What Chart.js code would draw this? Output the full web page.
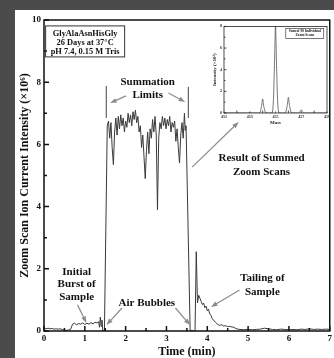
<!DOCTYPE html>
<html>
<head>
<meta charset="utf-8">
<script src="https://cdn.jsdelivr.net/npm/chart.js@4.4.1/dist/chart.umd.min.js"></script>
<style>
    html, body { margin: 0; padding: 0; background: #4b4b4b; }
    body { width: 334px; height: 358px; position: relative; overflow: hidden; }
    #panel { position: absolute; left: 15px; top: 10px; width: 319px; height: 348px; background: #fff; }
    #mainChart { position: absolute; left: 0; top: 0; }
    #insetChart { position: absolute; left: 200px; top: 22px; }
</style>
</head>
<body>
<div id="panel"></div>
<canvas id="mainChart" width="334" height="358"></canvas>
<canvas id="insetChart" width="132" height="108"></canvas>
<script>
// main trace: time (min) vs zoom scan ion current (x10^6)
const timeMin = [
    0.00, 0.05, 0.10, 0.15, 0.20, 0.25, 0.30, 0.35, 0.40, 0.45,
    0.50, 0.55, 0.60, 0.65, 0.70, 0.75, 0.80, 0.85, 0.90, 0.95,
    1.00, 1.05, 1.10, 1.15, 1.20, 1.25, 1.30, 1.34, 1.36, 1.38,
    1.40, 1.42, 1.44, 1.48, 1.55, 1.58, 1.61, 1.64, 1.67, 1.70,
    1.73, 1.76, 1.79, 1.82, 1.85, 1.88, 1.91, 1.94, 1.97, 2.00,
    2.03, 2.06, 2.09, 2.12, 2.15, 2.18, 2.21, 2.24, 2.27, 2.30,
    2.33, 2.36, 2.39, 2.42, 2.45, 2.48, 2.51, 2.54, 2.57, 2.60,
    2.63, 2.66, 2.69, 2.72, 2.75, 2.78, 2.81, 2.84, 2.87, 2.90,
    2.93, 2.96, 2.99, 3.02, 3.05, 3.08, 3.11, 3.14, 3.17, 3.20,
    3.23, 3.26, 3.29, 3.32, 3.35, 3.38, 3.41, 3.44, 3.46, 3.48,
    3.58, 3.62, 3.66, 3.70, 3.73, 3.76, 3.79, 3.82, 3.85, 3.88,
    3.91, 3.94, 3.97, 4.00, 4.03, 4.06, 4.09, 4.12, 4.15, 4.20,
    4.25, 4.30, 4.35, 4.40, 4.45, 4.50, 4.55, 4.60, 4.65, 4.70,
    4.75, 4.80, 4.90, 5.00, 5.10, 5.20, 5.30, 5.40, 5.50, 5.60,
    5.70, 5.80, 5.90, 6.00, 6.10, 6.20, 6.30, 6.40, 6.50, 6.60,
    6.70, 6.80, 6.90, 7.00
];
const intensity = [
    0.08, 0.07, 0.09, 0.07, 0.08, 0.06, 0.07, 0.06, 0.07, 0.05,
    0.03, 0.02, 0.03, 0.05, 0.22, 0.25, 0.20, 0.24, 0.22, 0.26,
    0.21, 0.25, 0.22, 0.27, 0.23, 0.28, 0.26, 0.30, 0.12, 0.45,
    0.15, 0.35, 0.02, 0.00, 6.60, 6.75, 6.20, 6.70, 5.90, 5.35,
    6.40, 6.85, 6.30, 6.90, 6.50, 6.95, 6.60, 6.85, 6.40, 6.75,
    6.55, 7.00, 6.70, 6.95, 6.60, 7.05, 6.80, 7.10, 6.70, 6.90,
    6.40, 6.60, 5.90, 6.30, 5.60, 4.90, 5.80, 6.40, 5.70, 6.50,
    6.20, 6.80, 6.40, 6.90, 6.30, 3.90, 6.20, 6.70, 6.50, 6.90,
    6.60, 6.85, 6.50, 6.80, 6.60, 6.90, 6.40, 6.70, 6.55, 6.75,
    6.10, 6.50, 5.90, 5.40, 6.30, 6.70, 6.20, 7.00, 6.45, 6.60,
    0.00, 0.02, 0.00, 0.00, 2.55, 0.90, 1.15, 1.05, 0.95, 0.85,
    0.90, 0.75, 0.80, 0.65, 0.70, 0.55, 0.50, 0.40, 0.35, 0.28,
    0.22, 0.18, 0.20, 0.16, 0.17, 0.14, 0.15, 0.13, 0.12, 0.08,
    0.06, 0.05, 0.04, 0.05, 0.04, 0.05, 0.06, 0.09, 0.07, 0.05,
    0.04, 0.06, 0.05, 0.04, 0.05, 0.04, 0.06, 0.05, 0.07, 0.05,
    0.06, 0.05, 0.06, 0.05
];
const timeTicks = [0, 1, 2, 3, 4, 5, 6, 7];
const intensityTicks = [0, 2, 4, 6, 8, 10];

// inset: summed zoom scan spectrum
const insetMass = [451, 453.75, 453.9, 454.0, 454.1, 454.25, 454.75, 454.9, 455.0, 455.1, 455.25,
    455.75, 455.9, 456.0, 456.1, 456.25, 456.8, 456.9, 457.0, 457.1, 457.2, 459];
const insetIntensity = [0, 0, 0.55, 1.3, 0.55, 0, 0, 3.6, 8.2, 3.6, 0,
    0, 0.6, 1.45, 0.6, 0, 0, 0.12, 0.3, 0.12, 0, 0];
const insetMassTicks = [451, 453, 455, 457, 459];
const insetIntensityTicks = [0, 2, 4, 6, 8];

const SERIF = '"Liberation Serif", "Times New Roman", serif';
const ARROW = '#8c8c8c';

// text labels placed in data units (t, v) of the main chart
const notes = [
    { lines: ['Summation', 'Limits'], t: 2.54, v: 8.0, size: 11, gap: 13 },
    { lines: ['Result of Summed', 'Zoom Scans'], t: 5.33, v: 5.56, size: 11, gap: 14 },
    { lines: ['Initial', 'Burst of', 'Sample'], t: 0.80, v: 1.90, size: 11, gap: 12.5 },
    { lines: ['Air Bubbles'], t: 2.52, v: 0.90, size: 11, gap: 0 },
    { lines: ['Tailing of', 'Sample'], t: 5.35, v: 1.70, size: 11, gap: 14 }
];
const arrows = [
    [2.01, 7.56, 1.62, 7.33],
    [3.05, 7.65, 3.46, 7.36],
    [3.63, 5.27, 4.77, 6.72],
    [0.82, 0.84, 1.04, 0.26],
    [1.91, 0.74, 1.53, 0.19],
    [3.22, 0.74, 3.58, 0.19],
    [4.79, 1.32, 4.09, 0.77]
];
const limitLines = [[1.525, 6.85, 7.88], [3.535, 6.85, 7.85]];

function drawArrow(ctx, x1, y1, x2, y2) {
    const a = Math.atan2(y2 - y1, x2 - x1);
    ctx.beginPath();
    ctx.moveTo(x1, y1);
    ctx.lineTo(x2 - 4 * Math.cos(a), y2 - 4 * Math.sin(a));
    ctx.stroke();
    ctx.beginPath();
    ctx.moveTo(x2, y2);
    ctx.lineTo(x2 - 7 * Math.cos(a - 0.35), y2 - 7 * Math.sin(a - 0.35));
    ctx.lineTo(x2 - 7 * Math.cos(a + 0.35), y2 - 7 * Math.sin(a + 0.35));
    ctx.closePath();
    ctx.fill();
}

function drawFrameTicks(ctx, chart, xMinor, yMinor, major, minor) {
    const { chartArea: a, scales: { x, y } } = chart;
    ctx.strokeRect(a.left, a.top, a.right - a.left, a.bottom - a.top);
    ctx.beginPath();
    for (let v = x.min; v <= x.max + 1e-9; v += xMinor) {
        const px = x.getPixelForValue(v);
        const len = Math.abs(v / (xMinor * 2) - Math.round(v / (xMinor * 2))) < 1e-6 ? major : minor;
        ctx.moveTo(px, a.bottom);
        ctx.lineTo(px, a.bottom - len);
    }
    for (let v = y.min; v <= y.max + 1e-9; v += yMinor) {
        const py = y.getPixelForValue(v);
        const len = Math.abs(v / (yMinor * 2) - Math.round(v / (yMinor * 2))) < 1e-6 ? major : minor;
        ctx.moveTo(a.left, py);
        ctx.lineTo(a.left + len, py);
    }
    ctx.stroke();
}

const mainDecor = {
    id: 'mainDecor',
    afterDatasetsDraw(chart) {
        const { ctx, scales: { x, y } } = chart;
        ctx.save();
        ctx.strokeStyle = '#111';
        ctx.lineWidth = 1.5;
        drawFrameTicks(ctx, chart, 0.5, 1, 5, 3);

        // info box
        const bx = x.getPixelForValue(0.04), by = y.getPixelForValue(9.81);
        ctx.lineWidth = 1;
        ctx.strokeStyle = '#333';
        ctx.strokeRect(bx, by, 79, 31);
        ctx.fillStyle = '#111';
        ctx.font = 'bold 8.4px ' + SERIF;
        ctx.textAlign = 'center';
        ctx.textBaseline = 'middle';
        ['GlyAlaAsnHisGly', '26 Days at 37°C', 'pH 7.4, 0.15 M Tris'].forEach((s, i) => {
            ctx.fillText(s, bx + 39.5, by + 7.5 + i * 9.2);
        });

        // summation limit bars
        ctx.strokeStyle = '#444';
        limitLines.forEach(([t, v1, v2]) => {
            ctx.beginPath();
            ctx.moveTo(x.getPixelForValue(t), y.getPixelForValue(v1));
            ctx.lineTo(x.getPixelForValue(t), y.getPixelForValue(v2));
            ctx.stroke();
        });

        notes.forEach(n => {
            ctx.font = 'bold ' + n.size + 'px ' + SERIF;
            const px = x.getPixelForValue(n.t), py = y.getPixelForValue(n.v);
            n.lines.forEach((s, i) => ctx.fillText(s, px, py + i * n.gap));
        });

        ctx.strokeStyle = ARROW;
        ctx.fillStyle = ARROW;
        ctx.lineWidth = 1.2;
        arrows.forEach(([t1, v1, t2, v2]) => {
            drawArrow(ctx, x.getPixelForValue(t1), y.getPixelForValue(v1),
                x.getPixelForValue(t2), y.getPixelForValue(v2));
        });
        ctx.restore();
    }
};

new Chart(document.getElementById('mainChart'), {
    type: 'line',
    data: {
        datasets: [{
            data: timeMin.map((t, i) => ({ x: t, y: intensity[i] })),
            borderColor: '#3a3a3a',
            borderWidth: 1,
            pointRadius: 0,
            tension: 0
        }]
    },
    options: {
        responsive: false,
        animation: false,
        layout: { padding: { top: 20, right: 1, left: 0, bottom: 0 } },
        plugins: { legend: { display: false }, tooltip: { enabled: false } },
        scales: {
            x: {
                type: 'linear',
                min: 0,
                max: 7,
                afterBuildTicks: s => { s.ticks = timeTicks.map(v => ({ value: v })); },
                afterFit: s => { s.height = 27; },
                grid: { display: false, drawTicks: false },
                border: { display: false },
                ticks: { color: '#111', padding: 2, font: { family: SERIF, size: 9, weight: 'bold' } },
                title: {
                    display: true,
                    text: 'Time (min)',
                    color: '#111',
                    padding: { top: 0, bottom: 0 },
                    font: { family: SERIF, size: 12, weight: 'bold', lineHeight: 1 }
                }
            },
            y: {
                min: 0,
                max: 10,
                afterBuildTicks: s => { s.ticks = intensityTicks.map(v => ({ value: v })); },
                afterFit: s => { s.width = 44; },
                grid: { display: false, drawTicks: false },
                border: { display: false },
                ticks: { color: '#111', padding: 3, font: { family: SERIF, size: 9, weight: 'bold' } },
                title: {
                    display: true,
                    text: 'Zoom Scan Ion Current Intensity (×10⁶)',
                    color: '#111',
                    padding: { top: 19, bottom: 0 },
                    font: { family: SERIF, size: 12, weight: 'bold', lineHeight: 1 }
                }
            }
        }
    },
    plugins: [mainDecor]
});

const insetDecor = {
    id: 'insetDecor',
    afterDatasetsDraw(chart) {
        const { ctx, scales: { x, y } } = chart;
        ctx.save();
        ctx.strokeStyle = '#222';
        ctx.lineWidth = 0.8;
        drawFrameTicks(ctx, chart, 1, 1, 2.5, 1.5);
        // legend box
        const lx = x.getPixelForValue(455.8), ly = y.getPixelForValue(7.82);
        const rx = x.getPixelForValue(458.75), ry = y.getPixelForValue(6.9);
        ctx.lineWidth = 0.6;
        ctx.strokeRect(lx, ly, rx - lx, ry - ly);
        ctx.fillStyle = '#111';
        ctx.font = 'bold 3.6px ' + SERIF;
        ctx.textAlign = 'center';
        ctx.textBaseline = 'middle';
        ctx.fillText('Sum of 90 Individual', (lx + rx) / 2, ly + 3);
        ctx.fillText('Zoom Scans', (lx + rx) / 2, ly + 7);
        ctx.restore();
    }
};

new Chart(document.getElementById('insetChart'), {
    type: 'line',
    data: {
        datasets: [{
            data: insetMass.map((m, i) => ({ x: m, y: insetIntensity[i] })),
            borderColor: '#555',
            borderWidth: 0.8,
            pointRadius: 0,
            tension: 0.2
        }]
    },
    options: {
        responsive: false,
        animation: false,
        layout: { padding: { top: 4, right: 5, left: 0, bottom: 0 } },
        plugins: { legend: { display: false }, tooltip: { enabled: false } },
        scales: {
            x: {
                type: 'linear',
                min: 451,
                max: 459,
                afterBuildTicks: s => { s.ticks = insetMassTicks.map(v => ({ value: v })); },
                afterFit: s => { s.height = 17; },
                grid: { display: false, drawTicks: false },
                border: { display: false },
                ticks: { color: '#222', padding: 1.5, font: { family: SERIF, size: 4, weight: 'bold' } },
                title: {
                    display: true,
                    text: 'Mass',
                    color: '#222',
                    padding: { top: 0, bottom: 5 },
                    font: { family: SERIF, size: 5, weight: 'bold', lineHeight: 1 }
                }
            },
            y: {
                min: 0,
                max: 8,
                afterBuildTicks: s => { s.ticks = insetIntensityTicks.map(v => ({ value: v })); },
                afterFit: s => { s.width = 24; },
                grid: { display: false, drawTicks: false },
                border: { display: false },
                ticks: { color: '#222', padding: 2, font: { family: SERIF, size: 4, weight: 'bold' } },
                title: {
                    display: true,
                    text: 'Intensity (×10⁵)',
                    color: '#222',
                    padding: { top: 12.5, bottom: 0 },
                    font: { family: SERIF, size: 5, weight: 'bold', lineHeight: 1 }
                }
            }
        }
    },
    plugins: [insetDecor]
});
</script>
</body>
</html>
